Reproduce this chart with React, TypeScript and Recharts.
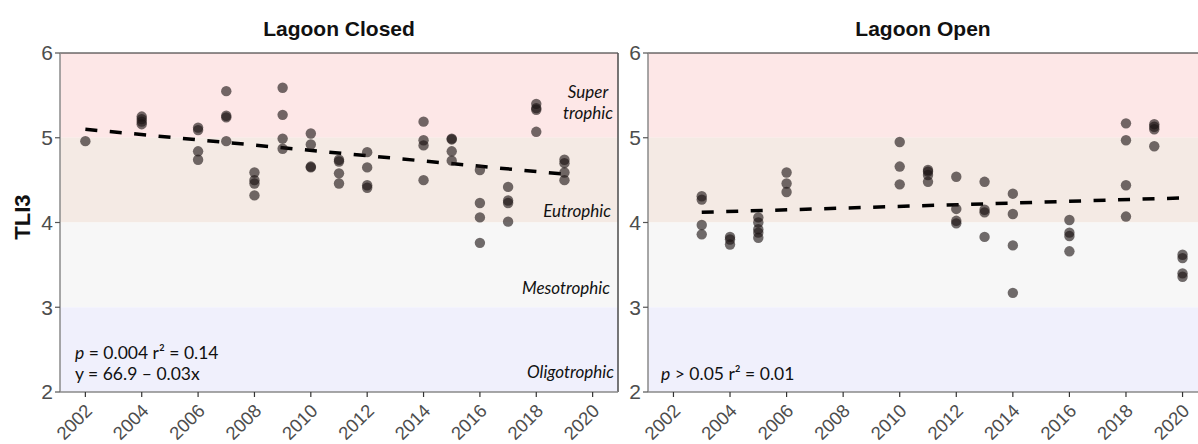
import React from 'react';
import { ComposedChart, Scatter, XAxis, YAxis, ReferenceArea, ReferenceLine } from 'recharts';

const yearTicks = [2002, 2004, 2006, 2008, 2010, 2012, 2014, 2016, 2018, 2020];
const tliTicks = [2, 3, 4, 5, 6];
const xDomain: [number, number] = [2001.1, 2020.9];
const yDomain: [number, number] = [2, 6];

const closedYears = [2002, 2004, 2006, 2007, 2008, 2009, 2010, 2011, 2012, 2014, 2015, 2016, 2017, 2018, 2019];
const closedValues = [
  [4.96],
  [5.25, 5.22, 5.19, 5.16],
  [5.12, 5.09, 4.84, 4.74],
  [5.55, 5.26, 5.24, 4.96],
  [4.59, 4.5, 4.46, 4.32],
  [5.59, 5.27, 4.99, 4.87],
  [5.05, 4.92, 4.66, 4.65],
  [4.74, 4.72, 4.58, 4.46],
  [4.83, 4.65, 4.44, 4.41],
  [5.19, 4.97, 4.91, 4.5],
  [4.99, 4.98, 4.84, 4.73],
  [4.62, 4.23, 4.06, 3.76],
  [4.42, 4.26, 4.23, 4.01],
  [5.4, 5.35, 5.33, 5.07],
  [4.74, 4.7, 4.59, 4.5],
];

const openYears = [2003, 2004, 2005, 2006, 2010, 2011, 2012, 2013, 2014, 2016, 2018, 2019, 2020];
const openValues = [
  [4.31, 4.27, 3.97, 3.86],
  [3.83, 3.8, 3.74],
  [4.06, 4.0, 3.92, 3.88, 3.82],
  [4.59, 4.46, 4.36],
  [4.95, 4.66, 4.45],
  [4.62, 4.6, 4.56, 4.48],
  [4.54, 4.16, 4.02, 3.99],
  [4.48, 4.15, 4.12, 3.83],
  [4.34, 4.1, 3.73, 3.17],
  [4.03, 3.88, 3.84, 3.66],
  [5.17, 4.97, 4.44, 4.07],
  [5.16, 5.13, 5.1, 4.9],
  [3.62, 3.58, 3.4, 3.36],
];

const closedTrend = [{ x: 2002, y: 5.1 }, { x: 2019, y: 4.57 }];
const openTrend = [{ x: 2003, y: 4.12 }, { x: 2020, y: 4.29 }];

const bandLow = [5, 4, 3, 2];
const bandHigh = [6, 5, 4, 3];
const bandColors = ['#fde7e7', '#f4eae4', '#f7f7f7', '#f0f0fc'];

const flatten = (years: number[], values: number[][]) =>
  years.flatMap((yr, i) => values[i].map((v) => ({ x: yr, y: v })));

const closedPoints = flatten(closedYears, closedValues);
const openPoints = flatten(openYears, openValues);

const Dot = (props: any) => (
  <circle cx={props.cx} cy={props.cy} r={5.2} fill="#1c1414" fillOpacity={0.62} />
);

const XTick = (props: any) => {
  const { x, y, payload } = props;
  const ax = x + 8;
  const ay = y + 13;
  return (
    <text
      x={ax}
      y={ay}
      textAnchor="end"
      transform={`rotate(-45 ${ax} ${ay})`}
      fontSize={18.5}
      fill="#4d4d4d"
      fontFamily="'Liberation Sans', Arial, sans-serif"
    >
      {payload.value}
    </text>
  );
};

function Panel({ points, trend, width, rightBorder }: any) {
  return (
    <ComposedChart width={width} height={444} margin={{ top: 53, right: 2, bottom: 0, left: 0 }}>
      {bandLow.map((lo, i) => (
        <ReferenceArea
          key={i}
          y1={lo}
          y2={bandHigh[i]}
          fill={bandColors[i]}
          fillOpacity={1}
          stroke="none"
          ifOverflow="visible"
        />
      ))}
      <XAxis
        type="number"
        dataKey="x"
        domain={xDomain}
        ticks={yearTicks}
        allowDataOverflow
        height={52}
        tickSize={5}
        tickMargin={2}
        axisLine={{ stroke: '#8a8a8a', strokeWidth: 1.5 }}
        tickLine={{ stroke: '#333', strokeWidth: 1.2 }}
        tick={<XTick />}
        interval={0}
      />
      <YAxis
        type="number"
        dataKey="y"
        domain={yDomain}
        ticks={tliTicks}
        allowDataOverflow
        width={60}
        tickSize={5}
        tickMargin={2}
        axisLine={{ stroke: '#8a8a8a', strokeWidth: 1.5 }}
        tickLine={{ stroke: '#555', strokeWidth: 1.2 }}
        tick={{ fill: '#4d4d4d', fontSize: 21, fontFamily: "'Liberation Sans', Arial, sans-serif" }}
        interval={0}
      />
      <ReferenceLine y={6} stroke="#222" strokeWidth={1.2} ifOverflow="visible" />
      {rightBorder && (
        <ReferenceLine x={xDomain[1]} stroke="#555" strokeWidth={1.6} ifOverflow="visible" />
      )}
      <Scatter data={points} shape={<Dot />} isAnimationActive={false} />
      <ReferenceLine
        segment={trend}
        stroke="#000"
        strokeWidth={3.5}
        strokeDasharray="12 12.5"
        ifOverflow="visible"
      />
    </ComposedChart>
  );
}

const labelFont = "Lato, 'Open Sans', sans-serif";

export default function App() {
  return (
    <div
      style={{
        position: 'absolute',
        left: 0,
        top: 0,
        width: 1198,
        height: 444,
        overflow: 'hidden',
        background: '#fff',
      }}
    >
      <div style={{ position: 'absolute', left: 0, top: 0 }}>
        <Panel points={closedPoints} trend={closedTrend} width={620} rightBorder />
      </div>
      <div style={{ position: 'absolute', left: 588, top: 0 }}>
        <Panel points={openPoints} trend={openTrend} width={622} rightBorder={false} />
      </div>
      <svg
        width={1198}
        height={444}
        style={{ position: 'absolute', left: 0, top: 0, pointerEvents: 'none' }}
      >
        <g fontFamily="'Liberation Sans', Arial, sans-serif" fontWeight="bold" fill="#111">
          <text x={339} y={36} fontSize={21} textAnchor="middle">Lagoon Closed</text>
          <text x={923} y={36} fontSize={21} textAnchor="middle">Lagoon Open</text>
          <text x={29.5} y={217} fontSize={22} textAnchor="middle" transform="rotate(-90 29.5 217)">TLI3</text>
        </g>
        <g fontFamily={labelFont} fontStyle="italic" fontSize={17} fill="#111">
          <text x={588} y={97.5} textAnchor="middle">Super</text>
          <text x={588} y={118.5} textAnchor="middle">trophic</text>
          <text x={611} y={216.5} textAnchor="end">Eutrophic</text>
          <text x={610} y={293.5} textAnchor="end">Mesotrophic</text>
          <text x={614} y={377.5} textAnchor="end">Oligotrophic</text>
        </g>
        <g fontFamily={labelFont} fontSize={17.5} fill="#111">
          <text x={75} y={359}>
            <tspan fontStyle="italic">p</tspan> = 0.004 r² = 0.14
          </text>
          <text x={75} y={380}>y = 66.9 – 0.03x</text>
          <text x={661} y={380}>
            <tspan fontStyle="italic">p</tspan> &gt; 0.05 r² = 0.01
          </text>
        </g>
      </svg>
    </div>
  );
}
